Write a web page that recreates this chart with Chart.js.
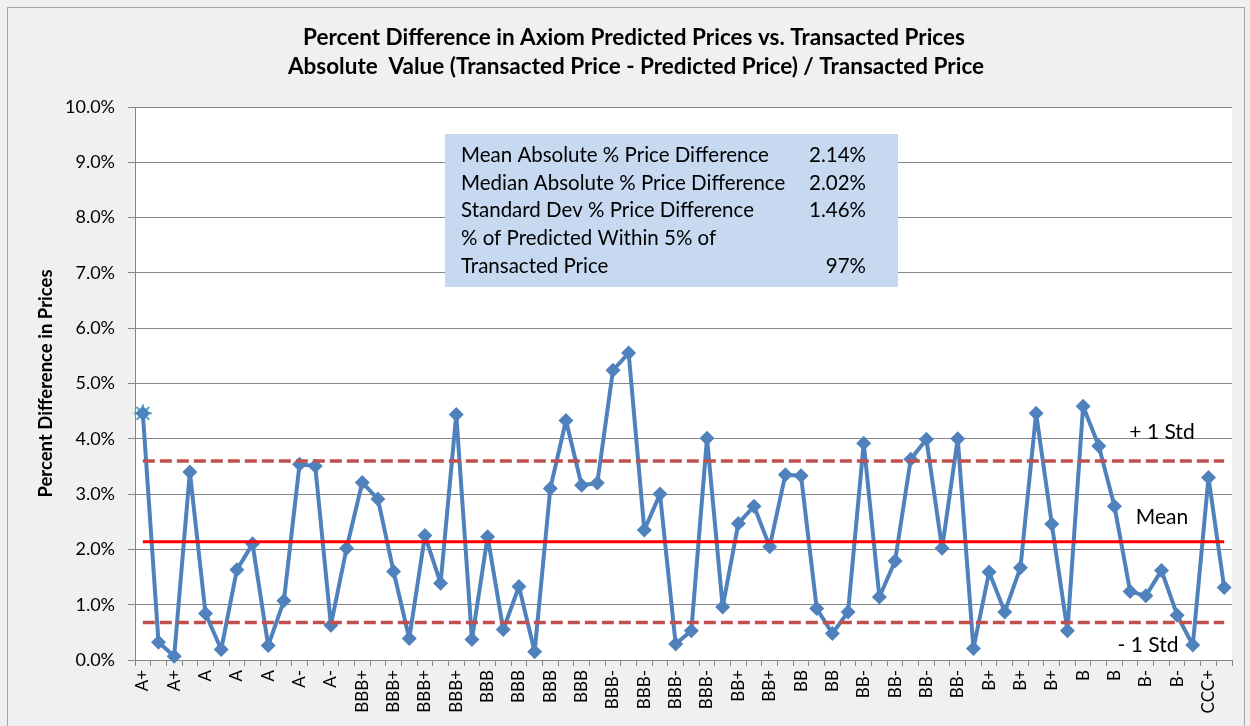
<!DOCTYPE html>
<html>
<head>
<meta charset="utf-8">
<script src="https://cdn.jsdelivr.net/npm/chart.js@4/dist/chart.umd.min.js"></script>
<style>
  html, body { margin: 0; padding: 0; background: #ffffff; }
  #wrap { width: 1250px; height: 726px; }
</style>
</head>
<body>
<div id="wrap"><canvas id="chart" width="1250" height="726"></canvas></div>
<script>
// rating shown under every other point (Excel skipped the in-between labels)
const ratings = ['A+', 'A+', 'A', 'A', 'A', 'A-', 'A-', 'BBB+', 'BBB+', 'BBB+', 'BBB+',
  'BBB', 'BBB', 'BBB', 'BBB', 'BBB-', 'BBB-', 'BBB-', 'BBB-', 'BB+', 'BB+', 'BB', 'BB',
  'BB-', 'BB-', 'BB-', 'BB-', 'B+', 'B+', 'B+', 'B', 'B', 'B-', 'B-', 'CCC+'];

// absolute % difference per bond (in %)
const pctDiff = [
  4.46, 0.32, 0.07, 3.40, 0.84, 0.19, 1.63, 2.10, 0.26, 1.07,
  3.54, 3.51, 0.63, 2.02, 3.21, 2.91, 1.60, 0.39, 2.25, 1.39,
  4.44, 0.37, 2.23, 0.55, 1.33, 0.15, 3.10, 4.33, 3.16, 3.20,
  5.24, 5.55, 2.35, 3.00, 0.29, 0.53, 4.01, 0.96, 2.47, 2.78,
  2.05, 3.35, 3.33, 0.93, 0.48, 0.87, 3.92, 1.14, 1.79, 3.63,
  3.99, 2.02, 4.00, 0.21, 1.59, 0.87, 1.67, 4.46, 2.46, 0.53,
  4.59, 3.87, 2.78, 1.24, 1.16, 1.62, 0.81, 0.27, 3.30, 1.31
];

const MEAN = 2.14;
const PLUS_STD = 3.60;
const MINUS_STD = 0.68;

const yTicks = [0, 1, 2, 3, 4, 5, 6, 7, 8, 9, 10];

const statRows = [
  ['Mean Absolute % Price Difference', '2.14%'],
  ['Median Absolute % Price Difference', '2.02%'],
  ['Standard Dev % Price Difference', '1.46%'],
  ['% of Predicted Within 5% of', ''],
  ['Transacted Price', '97%']
];

const titleLines = [
  'Percent Difference in Axiom Predicted Prices vs. Transacted Prices',
  'Absolute  Value (Transacted Price - Predicted Price) / Transacted Price'
];

const labels = ratings.flatMap(r => [r, '']);
const FONT = 'Lato, "Open Sans", sans-serif';

const decor = {
  id: 'decor',
  beforeDraw(chart) {
    const { ctx, chartArea: a } = chart;
    ctx.save();
    ctx.fillStyle = '#f0f0f0';
    ctx.fillRect(0, 0, chart.width, chart.height);
    ctx.strokeStyle = '#a6a6a6';
    ctx.lineWidth = 1;
    ctx.strokeRect(7.5, 7.5, 1237, 740);
    ctx.fillStyle = '#ffffff';
    ctx.fillRect(a.left, a.top, a.right - a.left, a.bottom - a.top);
    ctx.restore();
  },
  afterDraw(chart) {
    const { ctx } = chart;
    ctx.save();
    // title
    ctx.fillStyle = '#000';
    ctx.textAlign = 'center';
    ctx.textBaseline = 'middle';
    ctx.font = 'bold 22.5px ' + FONT;
    ctx.fillText(titleLines[0], 634, 38);
    ctx.fillText(titleLines[1], 636, 67);

    // stats box
    ctx.fillStyle = '#c6d9f1';
    ctx.fillRect(445, 134, 453, 153);
    ctx.fillStyle = '#000';
    ctx.font = '20.5px ' + FONT;
    const rowY = [155, 183, 210, 238, 266];
    statRows.forEach((row, i) => {
      ctx.textAlign = 'left';
      ctx.fillText(row[0], 461, rowY[i]);
      ctx.textAlign = 'right';
      ctx.fillText(row[1], 866, rowY[i]);
    });

    // line labels
    ctx.textAlign = 'center';
    ctx.font = '21px ' + FONT;
    ctx.fillText('+ 1 Std', 1162, 432);
    ctx.fillText('Mean', 1162, 517);
    ctx.fillText('- 1 Std', 1148, 645);
    ctx.restore();
  }
};

new Chart(document.getElementById('chart'), {
  type: 'line',
  data: {
    labels,
    datasets: [
      {
        label: 'Mean',
        data: labels.map(() => MEAN),
        borderColor: '#ff0000',
        borderWidth: 3,
        pointRadius: 0,
        order: 0
      },
      {
        label: '+1 Std',
        data: labels.map(() => PLUS_STD),
        borderColor: '#c0504d',
        borderWidth: 3.5,
        borderDash: [12, 5],
        pointRadius: 0,
        order: 0
      },
      {
        label: '-1 Std',
        data: labels.map(() => MINUS_STD),
        borderColor: '#c0504d',
        borderWidth: 3.5,
        borderDash: [12, 5],
        pointRadius: 0,
        order: 0
      },
      {
        label: '% Difference',
        data: pctDiff,
        borderColor: '#4f81bd',
        backgroundColor: '#4f81bd',
        borderWidth: 4,
        borderJoinStyle: 'round',
        pointStyle: 'rectRot',
        pointRadius: 7.5,
        pointBorderWidth: 0,
        clip: false,
        order: 1
      },
      {
        label: 'first',
        data: [pctDiff[0]],
        showLine: false,
        pointStyle: 'star',
        pointRadius: 9,
        pointBorderColor: '#4bacc6',
        pointBorderWidth: 2,
        clip: false,
        order: 2
      }
    ]
  },
  options: {
    responsive: false,
    animation: false,
    events: [],
    layout: { padding: { top: 107, right: 18, bottom: 0, left: 0 } },
    plugins: { legend: { display: false }, tooltip: { enabled: false }, title: { display: false } },
    scales: {
      x: {
        offset: true,
        afterFit: s => { s.height = 66; },
        grid: { offset: true, drawOnChartArea: false, color: '#868686', tickLength: 6 },
        border: { color: '#868686' },
        ticks: {
          autoSkip: false, maxRotation: 90, minRotation: 90, padding: 4,
          color: '#000', font: { family: FONT, size: 17 }
        }
      },
      y: {
        min: 0, max: 10,
        afterFit: s => { s.width = 135; },
        afterBuildTicks: s => { s.ticks = yTicks.map(v => ({ value: v })); },
        grid: { color: '#868686', tickLength: 7 },
        border: { color: '#868686' },
        title: {
          display: true, text: 'Percent Difference in Prices', color: '#000',
          font: { family: FONT, size: 18.5, weight: 'bold' }, padding: { top: 35, bottom: 0 }
        },
        ticks: {
          padding: 13, color: '#000', font: { family: FONT, size: 18 },
          callback: v => v.toFixed(1) + '%'
        }
      }
    }
  },
  plugins: [decor]
});
</script>
</body>
</html>
